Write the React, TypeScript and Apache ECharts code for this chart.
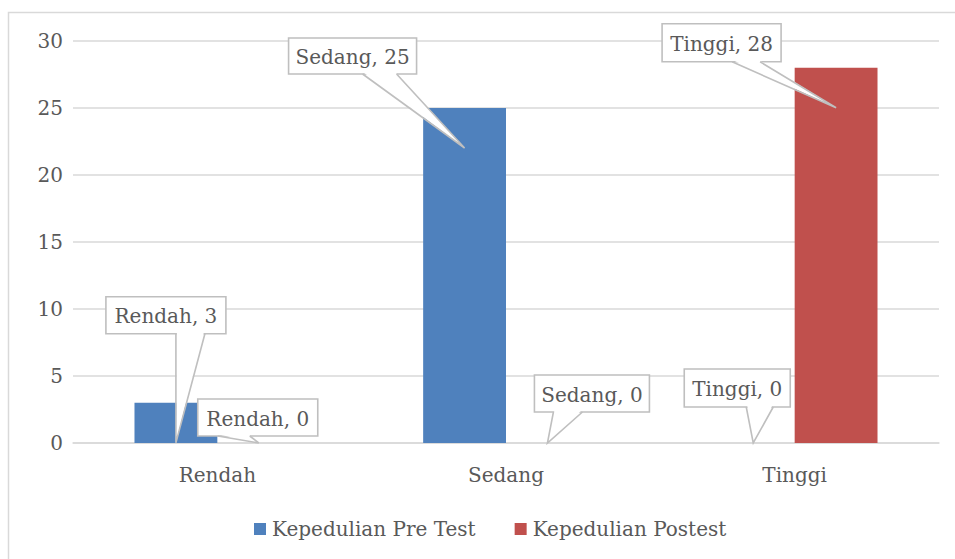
import React, { useEffect, useRef } from "react";
import * as echarts from "echarts";

const categories = ["Rendah", "Sedang", "Tinggi"];
const preTest = [3, 25, 0];
const postTest = [0, 0, 28];
const seriesNames = ["Kepedulian Pre Test", "Kepedulian Postest"];
const yTicks = { min: 0, max: 30, interval: 5 };

// callout layout (pixels relative to callout tip): [left, right, top, bottom, wedgeL, wedgeR]
const preCallouts = [
  [-70, 50, -146, -109, 0, 29],
  [-176, -48, -110, -74, -102, -68],
  [-69, 37, -74, -36, -7, 20],
];
const postCallouts = [
  [-61, 59, -44, -7, -41, -9],
  [-13, 102, -68, -31, 6, 35],
  [-174, -55, -84, -46, -104, -76],
];

const FONT = "'DejaVu Serif', serif";
const TXT = "#595959";
const BORDER = "#bfbfbf";
const BAR_RATIO = 0.287;

function makeCallout(values: number[], layout: number[][], side: number, name: string) {
  return {
    type: "custom",
    name,
    clip: false,
    z: 10,
    silent: true,
    data: values.map((v, i) => [i, v]),
    renderItem: (params: any, api: any) => {
      const cat = api.value(0);
      const v = api.value(1);
      const top = api.coord([cat, v]);
      const base = api.coord([cat, 0]);
      const band = api.size([1, 0])[0];
      const bw = band * BAR_RATIO;
      const tx = top[0] + (side * bw) / 2;
      const ty = Math.min(top[1] + 40, base[1]);
      const [l, r, t, b, wl, wr] = layout[params.dataIndex];
      const x0 = tx + l, x1 = tx + r, y0 = ty + t, y1 = ty + b;
      return {
        type: "group",
        children: [
          {
            type: "rect",
            shape: { x: x0, y: y0, width: x1 - x0, height: y1 - y0 },
            style: { fill: "#fff", stroke: BORDER, lineWidth: 1.6 },
          },
          {
            type: "polygon",
            shape: { points: [[tx + wl + 1, y1 - 1.5], [tx, ty], [tx + wr - 1, y1 - 1.5]] },
            style: { fill: "#fff", stroke: null },
          },
          {
            type: "polyline",
            shape: { points: [[tx + wl, y1], [tx, ty], [tx + wr, y1]] },
            style: { fill: null, stroke: BORDER, lineWidth: 1.6 },
          },
          {
            type: "text",
            x: (x0 + x1) / 2,
            y: (y0 + y1) / 2 + 1,
            style: {
              text: `${categories[cat]}, ${v}`,
              fill: TXT,
              font: `20px ${FONT}`,
              align: "center",
              verticalAlign: "middle",
            },
          },
        ],
      };
    },
  };
}

export default function App() {
  const ref = useRef<HTMLDivElement>(null);
  useEffect(() => {
    const chart = echarts.init(ref.current!, null, { renderer: "svg" });
    chart.setOption({
      animation: false,
      backgroundColor: "#fff",
      textStyle: { fontFamily: FONT, color: TXT },
      graphic: [
        {
          type: "rect",
          shape: { x: 8.5, y: 12.5, width: 1000, height: 600 },
          style: { fill: null, stroke: "#d9d9d9", lineWidth: 1.5 },
          silent: true,
          z: -1,
        },
      ],
      grid: { left: 73, right: 16, top: 41, bottom: 116 },
      legend: {
        data: seriesNames,
        left: 249,
        top: 514,
        icon: "rect",
        itemWidth: 12,
        itemHeight: 12,
        itemGap: 39,
        textStyle: { fontFamily: FONT, fontSize: 20, color: TXT, padding: [0, 0, 0, 1] },
      },
      xAxis: {
        type: "category",
        data: categories,
        axisLine: { lineStyle: { color: "#d9d9d9", width: 1.5 } },
        axisTick: { show: false },
        axisLabel: { fontFamily: FONT, fontSize: 20, color: TXT, margin: 22 },
      },
      yAxis: {
        type: "value",
        min: yTicks.min,
        max: yTicks.max,
        interval: yTicks.interval,
        axisLine: { show: false },
        axisTick: { show: false },
        axisLabel: { fontFamily: FONT, fontSize: 20, color: TXT, margin: 10 },
        splitLine: { lineStyle: { color: "#d9d9d9", width: 1.5 } },
      },
      series: [
        {
          type: "bar",
          name: seriesNames[0],
          data: preTest,
          barWidth: BAR_RATIO * 100 + "%",
          barGap: "0%",
          itemStyle: { color: "#4f81bd" },
        },
        {
          type: "bar",
          name: seriesNames[1],
          data: postTest,
          barWidth: BAR_RATIO * 100 + "%",
          barGap: "0%",
          itemStyle: { color: "#c0504d" },
        },
        makeCallout(preTest, preCallouts, -1, "callout-pre"),
        makeCallout(postTest, postCallouts, 1, "callout-post"),
      ],
    });
    return () => chart.dispose();
  }, []);
  return (
    <div
      ref={ref}
      style={{ position: "fixed", left: 0, top: 0, width: 955, height: 559 }}
    />
  );
}
